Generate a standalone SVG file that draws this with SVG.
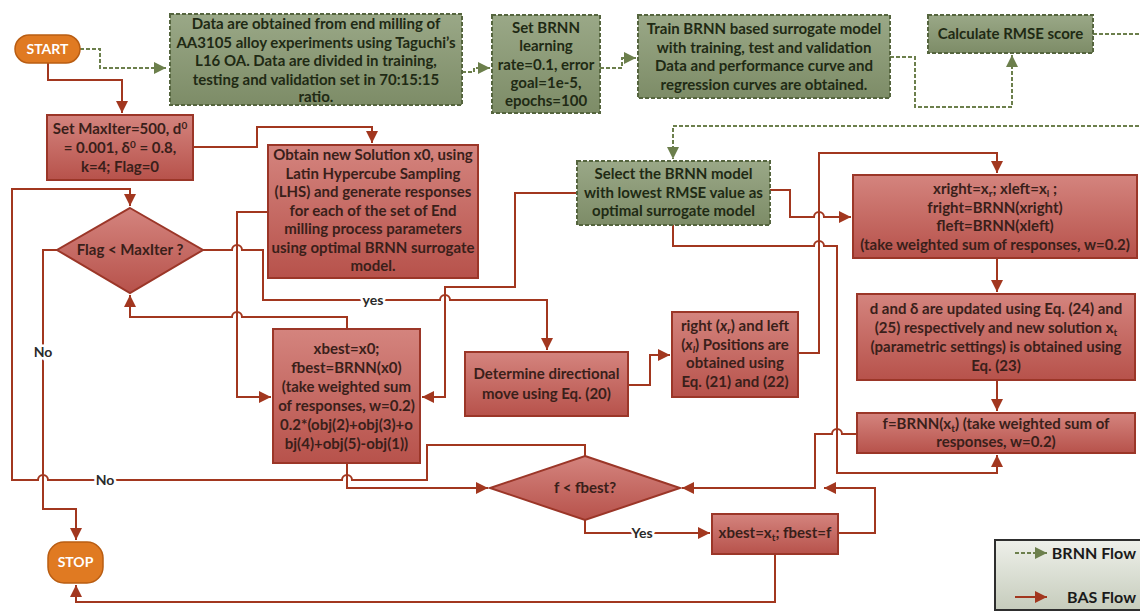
<svg xmlns="http://www.w3.org/2000/svg" width="1140" height="611" viewBox="0 0 1140 611">
<defs>
<linearGradient id="gr" x1="0" y1="0" x2="0" y2="1"><stop offset="0" stop-color="#d4847e"/><stop offset="1" stop-color="#b7524b"/></linearGradient>
<linearGradient id="gg" x1="0" y1="0" x2="0" y2="1"><stop offset="0" stop-color="#9aa887"/><stop offset="1" stop-color="#7d8c67"/></linearGradient>
<linearGradient id="gl" x1="0" y1="0" x2="0" y2="1"><stop offset="0" stop-color="#eef0ea"/><stop offset="1" stop-color="#c6ccbc"/></linearGradient>
<marker id="ar" markerUnits="userSpaceOnUse" markerWidth="13" markerHeight="12" refX="12" refY="6" orient="auto"><path d="M0,0 L12,6 L0,12 z" fill="#a2371f"/></marker>
<marker id="ag" markerUnits="userSpaceOnUse" markerWidth="13" markerHeight="12" refX="12" refY="6" orient="auto"><path d="M0,0 L12,6 L0,12 z" fill="#6c7f4c"/></marker>
<style>
.rb{fill:url(#gr);stroke:#9b3628;stroke-width:2}
.gb{fill:url(#gg);stroke:#55653e;stroke-width:2;stroke-dasharray:4 2}
.ob{fill:#e07a22;stroke:#b95d12;stroke-width:1.5}
.t{font-family:Lato,"Liberation Sans",sans-serif;font-weight:bold;font-size:15px;fill:#3a1f1a;text-anchor:middle}
.tg{fill:#1f2a14}
.tw{fill:#ffffff;font-size:14px}
.rc{fill:none;stroke:#a2371f;stroke-width:2;marker-end:url(#ar)}
.gc{fill:none;stroke:#6c7f4c;stroke-width:2;stroke-dasharray:4 2;marker-end:url(#ag)}
.lb{font-family:Lato,"Liberation Sans",sans-serif;font-weight:bold;font-size:14px;fill:#2a2a2a;text-anchor:middle;stroke:#ffffff;stroke-width:5;paint-order:stroke}
</style>
</defs>
<rect width="1140" height="611" fill="#ffffff"/>

<g id="connectors">
<path class="gc" d="M80,49 H100 V68 H166"/>
<path class="gc" d="M462,72 H474 V68 H490"/>
<path class="gc" d="M600,68 H622 V58 H636"/>
<path class="gc" d="M890,57 H915 V107 H1012 V55"/>
<path class="gc" d="M1093,34 H1145 V126 H673 V159"/>

<path class="rc" d="M48,63 V80 H122 V113"/>
<path class="rc" d="M193,147 H257 V127 H372 V143"/>
<path class="rc" d="M268,212 H237 V397 H271"/>
<path class="rc" d="M203,250 H232 A5,5 0 0 1 242,250 H263 V300 H440 A5,5 0 0 1 450,300 H547 V350"/>
<path class="rc" d="M577,193 H515 V287 H445 V397 H422"/>
<path class="rc" d="M347,329 V317 H242 A5,5 0 0 0 232,317 H130 V295"/>
<path class="rc" d="M347,463 V488 H488"/>
<path class="rc" d="M585,456 V445 H427 V480 H352 A5,5 0 0 0 342,480 H48 A5,5 0 0 0 38,480 H12 V189 H130 V206"/>
<path class="rc" d="M57,250 H43 V509 H76 V540"/>
<path class="rc" d="M585,520 V533 H710"/>
<path class="rc" d="M628,385 H650 V355 H670"/>
<path class="rc" d="M798,353 H819 V153 H997 V173"/>
<path class="rc" d="M770,190 H790 V217 H814 A5,5 0 0 1 824,217 H851"/>
<path class="rc" d="M673,225 V246 H814 A5,5 0 0 1 824,246 H837 V473 H997 V455"/>
<path class="rc" d="M997,258 V292"/>
<path class="rc" d="M997,380 V411"/>
<path class="rc" d="M857,434 H842 A5,5 0 0 0 832,434 H815 V488 H682"/>
<path class="rc" d="M838,533 H875 V488 H824"/>
<path class="rc" d="M775,554 V602 H76 V585"/>
<text class="lb" x="373" y="305">yes</text>
<text class="lb" x="43" y="357">No</text>
<text class="lb" x="105" y="485">No</text>
<text class="lb" x="642" y="538">Yes</text>
</g>

<g id="start">
<rect class="ob" x="15" y="35" width="65" height="28" rx="14"/>
<text class="t tw" x="47.5" y="54">START</text>
</g>

<g id="data">
<rect class="gb" x="170" y="14" width="292" height="91"/>
<text class="t tg" x="316" y="29">Data are obtained from end milling of</text>
<text class="t tg" x="316" y="47.5">AA3105 alloy experiments using Taguchi’s</text>
<text class="t tg" x="316" y="66">L16 OA. Data are divided in training,</text>
<text class="t tg" x="316" y="84.5">testing and validation set in 70:15:15</text>
<text class="t tg" x="316" y="102">ratio.</text>
</g>

<g id="setbrnn">
<rect class="gb" x="492" y="15" width="108" height="98"/>
<text class="t tg" x="546" y="33">Set BRNN</text>
<text class="t tg" x="546" y="51">learning</text>
<text class="t tg" x="546" y="69.5">rate=0.1, error</text>
<text class="t tg" x="546" y="88">goal=1e-5,</text>
<text class="t tg" x="546" y="106">epochs=100</text>
</g>

<g id="train">
<rect class="gb" x="638" y="15" width="252" height="83"/>
<text class="t tg" x="764" y="34">Train BRNN based surrogate model</text>
<text class="t tg" x="764" y="52.5">with training, test and validation</text>
<text class="t tg" x="764" y="71">Data and performance curve and</text>
<text class="t tg" x="764" y="89.5">regression curves are obtained.</text>
</g>

<g id="rmse">
<rect class="gb" x="928" y="15" width="165" height="38"/>
<text class="t tg" x="1010.5" y="39">Calculate RMSE score</text>
</g>

<g id="select">
<rect class="gb" x="577" y="161" width="193" height="64"/>
<text class="t tg" x="673.5" y="179">Select the BRNN model</text>
<text class="t tg" x="673.5" y="197.5">with lowest RMSE value as</text>
<text class="t tg" x="673.5" y="216">optimal surrogate model</text>
</g>

<g id="setmax">
<rect class="rb" x="47" y="115" width="146" height="65"/>
<text class="t" x="120" y="134">Set MaxIter=500, d<tspan font-size="10" dy="-5">0</tspan></text>
<text class="t" x="120" y="153">= 0.001, δ<tspan font-size="10" dy="-5">0</tspan><tspan dy="5"> = 0.8,</tspan></text>
<text class="t" x="120" y="172">k=4; Flag=0</text>
</g>

<g id="obtain">
<rect class="rb" x="268" y="145" width="210" height="133"/>
<text class="t" x="373" y="160">Obtain new Solution x0, using</text>
<text class="t" x="373" y="178.5">Latin Hypercube Sampling</text>
<text class="t" x="373" y="197">(LHS) and generate responses</text>
<text class="t" x="373" y="215.5">for each of the set of End</text>
<text class="t" x="373" y="234">milling process parameters</text>
<text class="t" x="373" y="252.5">using optimal BRNN surrogate</text>
<text class="t" x="373" y="271">model.</text>
</g>

<g id="flag">
<polygon class="rb" points="130,208 203,250 130,293 57,250"/>
<text class="t" x="130" y="255">Flag &lt; MaxIter ?</text>
</g>

<g id="xbest0">
<rect class="rb" x="273" y="329" width="147" height="134"/>
<text class="t" x="346.5" y="354">xbest=x0;</text>
<text class="t" x="346.5" y="373">fbest=BRNN(x0)</text>
<text class="t" x="346.5" y="392">(take weighted sum</text>
<text class="t" x="346.5" y="411">of responses, w=0.2)</text>
<text class="t" x="346.5" y="430">0.2*(obj(2)+obj(3)+o</text>
<text class="t" x="346.5" y="449">bj(4)+obj(5)-obj(1))</text>
</g>

<g id="determine">
<rect class="rb" x="465" y="352" width="163" height="64"/>
<text class="t" x="546.5" y="379">Determine directional</text>
<text class="t" x="546.5" y="399">move using Eq. (20)</text>
</g>

<g id="positions">
<rect class="rb" x="672" y="312" width="126" height="85"/>
<text class="t" x="735" y="331">right (<tspan font-style="italic">x<tspan font-size="10" dy="3">r</tspan></tspan><tspan dy="-3">) and left</tspan></text>
<text class="t" x="735" y="349.5">(<tspan font-style="italic">x<tspan font-size="10" dy="3">l</tspan></tspan><tspan dy="-3">) Positions are</tspan></text>
<text class="t" x="735" y="368">obtained using</text>
<text class="t" x="735" y="386.5">Eq. (21) and (22)</text>
</g>

<g id="xright">
<rect class="rb" x="853" y="175" width="284" height="83"/>
<text class="t" x="995" y="194">xright=x<tspan font-size="10" dy="3">r</tspan><tspan dy="-3">; xleft=x</tspan><tspan font-size="10" dy="3">l</tspan><tspan dy="-3"> ;</tspan></text>
<text class="t" x="995" y="212.5">fright=BRNN(xright)</text>
<text class="t" x="995" y="231">fleft=BRNN(xleft)</text>
<text class="t" x="995" y="249.5">(take weighted sum of responses, w=0.2)</text>
</g>

<g id="update">
<rect class="rb" x="857" y="294" width="278" height="86"/>
<text class="t" x="996" y="314">d and δ are updated using Eq. (24) and</text>
<text class="t" x="996" y="333">(25) respectively and new solution x<tspan font-size="10" dy="3">t</tspan></text>
<text class="t" x="996" y="352">(parametric settings) is obtained using</text>
<text class="t" x="996" y="371">Eq. (23)</text>
</g>

<g id="fbrnn">
<rect class="rb" x="857" y="413" width="278" height="40"/>
<text class="t" x="996" y="429">f=BRNN(x<tspan font-size="10" dy="3">t</tspan><tspan dy="-3">) (take weighted sum of</tspan></text>
<text class="t" x="996" y="447">responses, w=0.2)</text>
</g>

<g id="fless">
<polygon class="rb" points="585,456 680,488 585,520 490,488"/>
<text class="t" x="585" y="493">f &lt; fbest?</text>
</g>

<g id="xbestt">
<rect class="rb" x="712" y="514" width="126" height="40"/>
<text class="t" x="775" y="538">xbest=x<tspan font-size="10" dy="3">t</tspan><tspan dy="-3">; fbest=f</tspan></text>
</g>

<g id="stop">
<rect class="ob" x="48" y="542" width="55" height="41" rx="16"/>
<text class="t tw" x="75.5" y="567">STOP</text>
</g>

<g id="legend">
<rect x="995" y="540" width="146" height="70" fill="url(#gl)" stroke="#2e2e2e" stroke-width="2"/>
<path class="gc" d="M1015,553 H1047"/>
<path class="rc" d="M1015,597 H1047"/>
<text class="t" x="1136" y="559" style="text-anchor:end;fill:#1a1a1a;font-size:16px">BRNN Flow</text>
<text class="t" x="1136" y="603" style="text-anchor:end;fill:#1a1a1a;font-size:16px">BAS Flow</text>
</g>
</svg>
